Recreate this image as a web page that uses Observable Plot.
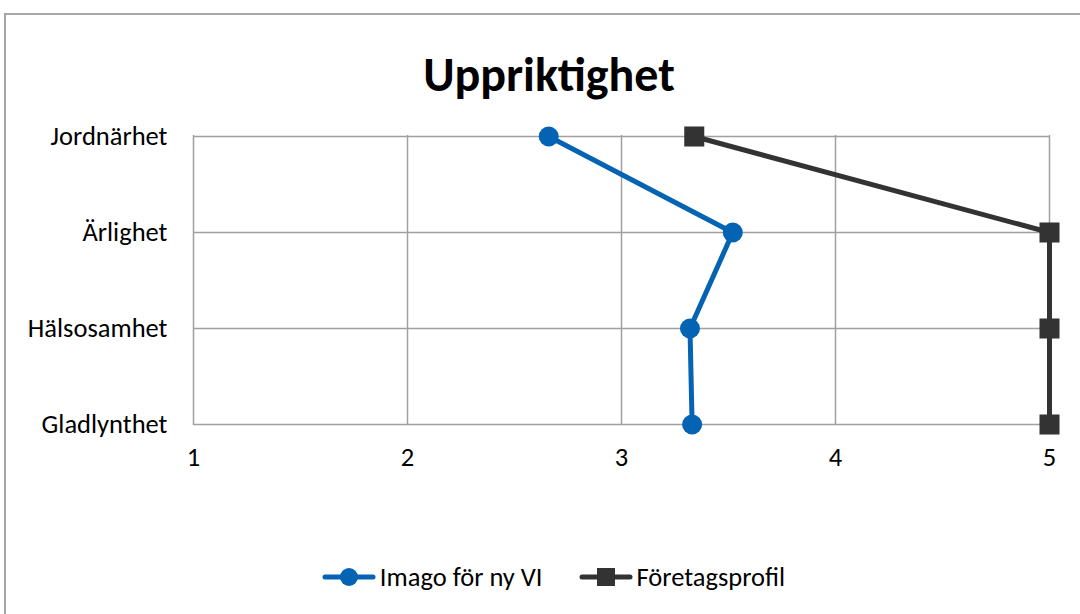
<!DOCTYPE html>
<html>
<head>
<meta charset="utf-8">
<script src="https://cdn.jsdelivr.net/npm/d3@7"></script>
<script src="https://cdn.jsdelivr.net/npm/@observablehq/plot@0.6"></script>
<style>
  html, body { margin: 0; padding: 0; background: #fff; width: 1080px; height: 614px; overflow: hidden; }
  body { font-family: Carlito, Lato, "Open Sans", sans-serif; position: relative; }
  #frame { position: absolute; left: 4px; top: 13px; width: 1100px; height: 640px; border: 2px solid #a6a6a6; box-sizing: border-box; }
  #title { position: absolute; left: 0; width: 1098px; top: 51px; text-align: center; font-size: 48px; font-weight: bold; line-height: 48px; color: #000; }
  #chart { position: absolute; left: 0; top: 115px; }
  #chart svg text { font-size: 26.5px; fill: #000; }
  #legend { position: absolute; left: 0; width: 1107px; top: 561px; display: flex; justify-content: center; align-items: center; font-size: 26.5px; line-height: 32px; color: #000; }
  .item { display: flex; align-items: center; }
  .item + .item { margin-left: 36px; }
  .item svg { display: block; margin-right: 4px; }
</style>
</head>
<body>
<div id="frame"></div>
<div id="title">Uppriktighet</div>
<div id="chart"></div>
<div id="legend"></div>
<script>
const categories = ["Jordnärhet", "Ärlighet", "Hälsosamhet", "Gladlynthet"];
const seriesNames = ["Imago för ny VI", "Företagsprofil"];
const imagoValues = [2.66, 3.52, 3.32, 3.33];
const profilValues = [3.34, 5, 5, 5];
const xTicks = [1, 2, 3, 4, 5];
const colors = ["#0563b4", "#333333"];

const imagoRows = categories.map((c, i) => ({category: c, value: imagoValues[i]}));
const profilRows = categories.map((c, i) => ({category: c, value: profilValues[i]}));

const grid = "#a0a0a0";
const chart = Plot.plot({
  width: 1080,
  height: 360,
  marginLeft: 193,
  marginRight: 31,
  marginTop: 20,
  marginBottom: 50,
  style: {fontFamily: "Carlito, Lato, 'Open Sans', sans-serif", fontSize: "26.5px", color: "#000", background: "transparent", overflow: "visible"},
  x: {domain: [1, 5], ticks: xTicks, label: null},
  y: {type: "point", domain: categories, padding: 0, label: null},
  marks: [
    Plot.ruleX(xTicks, {stroke: grid, strokeWidth: 1.5}),
    Plot.ruleY(categories, {y: d => d, stroke: grid, strokeWidth: 1.5}),
    Plot.axisX({ticks: xTicks, tickSize: 0, tickPadding: 22, tickFormat: d => String(d), label: null}),
    Plot.axisY({tickSize: 0, tickPadding: 26, label: null}),
    Plot.line(imagoRows, {x: "value", y: "category", stroke: colors[0], strokeWidth: 5}),
    Plot.line(profilRows, {x: "value", y: "category", stroke: colors[1], strokeWidth: 5}),
    Plot.dot(imagoRows, {x: "value", y: "category", symbol: "circle", r: 10, fill: colors[0], stroke: "none"}),
    Plot.dot(profilRows, {x: "value", y: "category", symbol: "square", r: 11.3, fill: colors[1], stroke: "none"})
  ]
});
document.getElementById("chart").appendChild(chart);

const legend = document.getElementById("legend");
seriesNames.forEach((name, i) => {
  const item = document.createElement("div");
  item.className = "item";
  const marker = i === 0
    ? `<circle cx="27" cy="10" r="9" fill="${colors[i]}"/>`
    : `<rect x="18" y="1" width="18" height="18" fill="${colors[i]}"/>`;
  item.innerHTML = `<svg width="54" height="20"><line x1="3" y1="10" x2="51" y2="10" stroke="${colors[i]}" stroke-width="5" stroke-linecap="round"/>${marker}</svg><span>${name}</span>`;
  legend.appendChild(item);
});
</script>
</body>
</html>
